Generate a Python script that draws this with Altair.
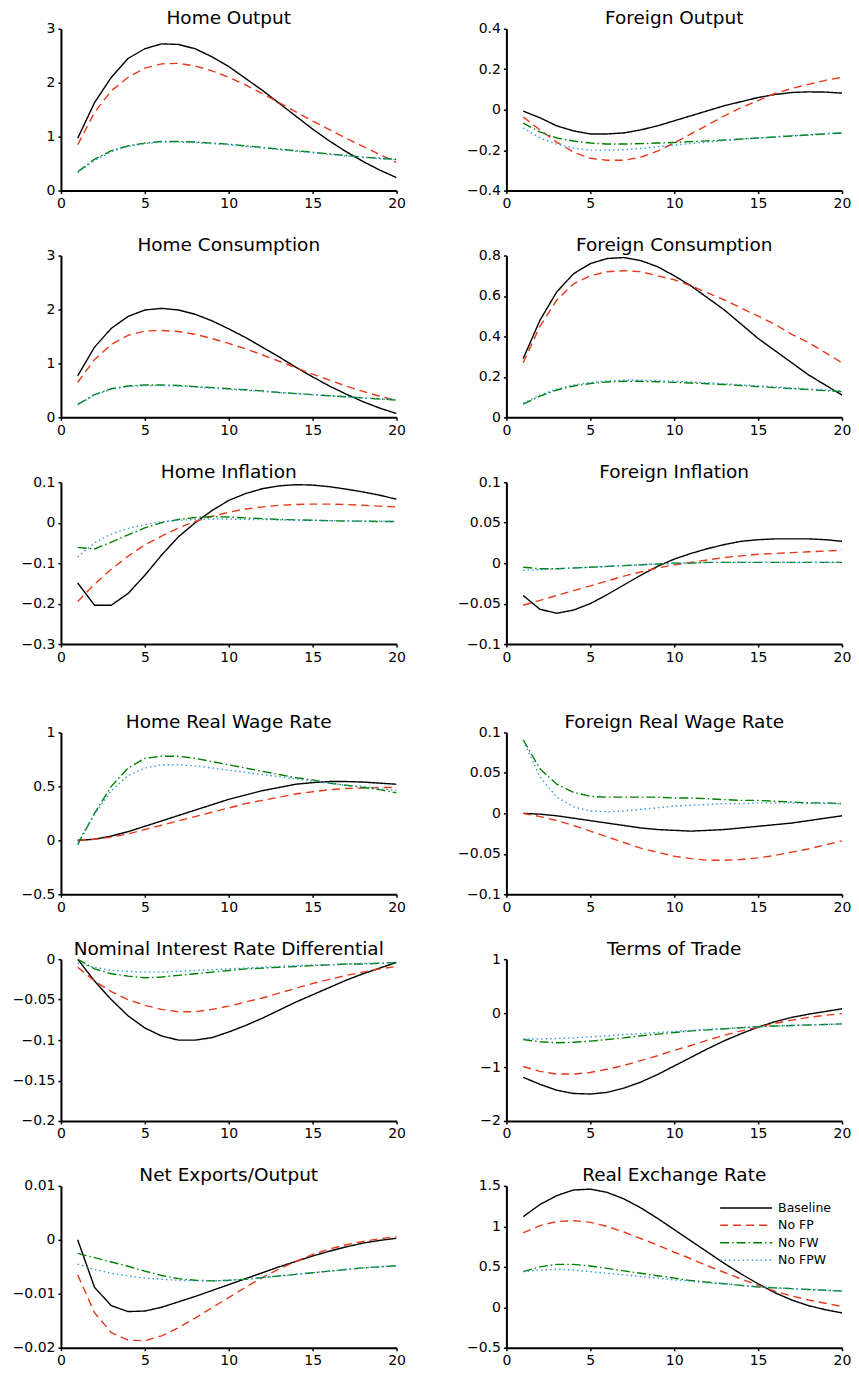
import altair as alt
import pandas as pd

periods = list(range(1, 21))
series_names = ["Baseline", "No FP", "No FW", "No FPW"]
series_colors = ["#000000", "#e6391a", "#008000", "#3399dd"]
series_dashes = [[1, 0], [8, 5], [9, 3, 1.5, 3], [1.5, 3]]
x_ticks = [0, 5, 10, 15, 20]

# ---- Home Output ----
home_output = {
    "Baseline": [0.97, 1.63, 2.10, 2.45, 2.63, 2.72, 2.71, 2.63, 2.48, 2.30, 2.08, 1.86, 1.62, 1.38, 1.14, 0.92, 0.72, 0.54, 0.38, 0.24],
    "No FP": [0.85, 1.45, 1.85, 2.10, 2.27, 2.35, 2.36, 2.31, 2.22, 2.10, 1.96, 1.80, 1.63, 1.46, 1.29, 1.13, 0.97, 0.82, 0.67, 0.52],
    "No FW": [0.35, 0.58, 0.74, 0.83, 0.88, 0.91, 0.91, 0.90, 0.88, 0.86, 0.83, 0.80, 0.77, 0.74, 0.71, 0.68, 0.65, 0.62, 0.60, 0.58],
    "No FPW": [0.33, 0.56, 0.72, 0.82, 0.87, 0.90, 0.90, 0.89, 0.87, 0.85, 0.82, 0.79, 0.76, 0.73, 0.70, 0.67, 0.64, 0.62, 0.59, 0.57],
}
# ---- Foreign Output ----
foreign_output = {
    "Baseline": [-0.007, -0.04, -0.08, -0.105, -0.12, -0.12, -0.115, -0.10, -0.08, -0.055, -0.03, -0.005, 0.02, 0.04, 0.06, 0.075, 0.085, 0.088, 0.087, 0.082],
    "No FP": [-0.036, -0.10, -0.16, -0.21, -0.24, -0.25, -0.25, -0.235, -0.205, -0.165, -0.12, -0.075, -0.03, 0.01, 0.045, 0.08, 0.105, 0.125, 0.145, 0.16],
    "No FW": [-0.067, -0.11, -0.14, -0.155, -0.165, -0.17, -0.17, -0.168, -0.165, -0.162, -0.158, -0.154, -0.15, -0.145, -0.14, -0.135, -0.13, -0.125, -0.12, -0.115],
    "No FPW": [-0.09, -0.14, -0.17, -0.19, -0.20, -0.20, -0.198, -0.192, -0.183, -0.175, -0.167, -0.16, -0.153, -0.146, -0.14, -0.134, -0.128, -0.123, -0.118, -0.113],
}
# ---- Home Consumption ----
home_consumption = {
    "Baseline": [0.77, 1.30, 1.65, 1.87, 1.99, 2.02, 1.99, 1.91, 1.79, 1.64, 1.48, 1.30, 1.12, 0.93, 0.75, 0.58, 0.43, 0.29, 0.17, 0.07],
    "No FP": [0.65, 1.07, 1.35, 1.52, 1.60, 1.61, 1.59, 1.54, 1.46, 1.37, 1.27, 1.16, 1.04, 0.92, 0.80, 0.69, 0.58, 0.48, 0.39, 0.31],
    "No FW": [0.24, 0.42, 0.53, 0.58, 0.60, 0.60, 0.59, 0.57, 0.55, 0.53, 0.51, 0.49, 0.46, 0.44, 0.42, 0.40, 0.38, 0.36, 0.34, 0.32],
    "No FPW": [0.23, 0.41, 0.52, 0.57, 0.59, 0.59, 0.58, 0.56, 0.54, 0.52, 0.50, 0.48, 0.46, 0.44, 0.42, 0.40, 0.38, 0.36, 0.34, 0.33],
}
# ---- Foreign Consumption ----
foreign_consumption = {
    "Baseline": [0.29, 0.48, 0.62, 0.71, 0.76, 0.785, 0.79, 0.775, 0.745, 0.70, 0.65, 0.59, 0.53, 0.46, 0.39, 0.33, 0.27, 0.21, 0.16, 0.11],
    "No FP": [0.27, 0.45, 0.58, 0.66, 0.70, 0.72, 0.725, 0.72, 0.70, 0.68, 0.65, 0.615, 0.58, 0.54, 0.50, 0.46, 0.41, 0.37, 0.32, 0.27],
    "No FW": [0.065, 0.105, 0.135, 0.155, 0.167, 0.175, 0.178, 0.178, 0.176, 0.173, 0.17, 0.166, 0.162, 0.157, 0.152, 0.147, 0.142, 0.137, 0.132, 0.127],
    "No FPW": [0.07, 0.11, 0.14, 0.16, 0.172, 0.18, 0.183, 0.183, 0.181, 0.178, 0.175, 0.171, 0.166, 0.161, 0.156, 0.151, 0.145, 0.14, 0.135, 0.13],
}
# ---- Home Inflation ----
home_inflation = {
    "Baseline": [-0.149, -0.204, -0.204, -0.175, -0.13, -0.08, -0.035, 0.0, 0.03, 0.055, 0.072, 0.084, 0.091, 0.094, 0.093, 0.089, 0.083, 0.076, 0.068, 0.058],
    "No FP": [-0.195, -0.152, -0.115, -0.083, -0.055, -0.033, -0.013, 0.003, 0.016, 0.026, 0.034, 0.039, 0.043, 0.045, 0.046, 0.046, 0.045, 0.043, 0.041, 0.039],
    "No FW": [-0.061, -0.065, -0.048, -0.03, -0.013, 0.0, 0.008, 0.013, 0.015, 0.014, 0.012, 0.010, 0.008, 0.007, 0.006, 0.005, 0.004, 0.004, 0.003, 0.003],
    "No FPW": [-0.085, -0.05, -0.028, -0.014, -0.005, 0.002, 0.006, 0.008, 0.009, 0.009, 0.008, 0.008, 0.007, 0.006, 0.006, 0.005, 0.005, 0.004, 0.004, 0.003],
}
# ---- Foreign Inflation ----
foreign_inflation = {
    "Baseline": [-0.040, -0.057, -0.062, -0.058, -0.050, -0.039, -0.027, -0.015, -0.004, 0.005, 0.012, 0.018, 0.023, 0.027, 0.029, 0.030, 0.030, 0.030, 0.029, 0.027],
    "No FP": [-0.052, -0.046, -0.040, -0.034, -0.028, -0.022, -0.016, -0.011, -0.006, -0.002, 0.001, 0.004, 0.007, 0.009, 0.011, 0.012, 0.013, 0.014, 0.015, 0.016],
    "No FW": [-0.005, -0.007, -0.007, -0.006, -0.005, -0.004, -0.003, -0.002, -0.001, 0.0, 0.0, 0.001, 0.001, 0.001, 0.001, 0.001, 0.001, 0.001, 0.001, 0.001],
    "No FPW": [-0.009, -0.008, -0.007, -0.006, -0.005, -0.004, -0.003, -0.002, -0.001, 0.0, 0.0, 0.001, 0.001, 0.001, 0.001, 0.001, 0.001, 0.001, 0.001, 0.001],
}
# ---- Home Real Wage Rate ----
home_wage = {
    "Baseline": [0.0, 0.01, 0.04, 0.08, 0.13, 0.18, 0.23, 0.28, 0.33, 0.38, 0.42, 0.46, 0.49, 0.52, 0.535, 0.545, 0.545, 0.54, 0.53, 0.52],
    "No FP": [0.0, 0.01, 0.03, 0.06, 0.10, 0.14, 0.18, 0.22, 0.26, 0.30, 0.34, 0.37, 0.40, 0.43, 0.45, 0.47, 0.48, 0.485, 0.49, 0.49],
    "No FW": [-0.04, 0.25, 0.50, 0.67, 0.76, 0.78, 0.78, 0.76, 0.73, 0.70, 0.67, 0.64, 0.61, 0.58, 0.56, 0.53, 0.51, 0.49, 0.47, 0.44],
    "No FPW": [-0.02, 0.24, 0.46, 0.60, 0.67, 0.70, 0.70, 0.69, 0.67, 0.65, 0.63, 0.61, 0.59, 0.57, 0.55, 0.53, 0.51, 0.50, 0.48, 0.46],
}
# ---- Foreign Real Wage Rate ----
foreign_wage = {
    "Baseline": [0.0, -0.001, -0.003, -0.006, -0.009, -0.012, -0.015, -0.018, -0.020, -0.021, -0.022, -0.021, -0.020, -0.018, -0.016, -0.014, -0.012, -0.009, -0.006, -0.003],
    "No FP": [0.0, -0.004, -0.009, -0.015, -0.022, -0.029, -0.036, -0.043, -0.048, -0.053, -0.056, -0.058, -0.058, -0.057, -0.055, -0.052, -0.048, -0.044, -0.039, -0.034],
    "No FW": [0.091, 0.055, 0.036, 0.026, 0.021, 0.020, 0.020, 0.020, 0.020, 0.019, 0.019, 0.018, 0.017, 0.016, 0.016, 0.015, 0.014, 0.013, 0.013, 0.012],
    "No FPW": [0.090, 0.045, 0.020, 0.008, 0.003, 0.002, 0.003, 0.005, 0.007, 0.009, 0.010, 0.011, 0.012, 0.012, 0.013, 0.013, 0.013, 0.012, 0.012, 0.012],
}
# ---- Nominal Interest Rate Differential ----
interest_diff = {
    "Baseline": [0.0, -0.027, -0.05, -0.07, -0.085, -0.095, -0.10, -0.10, -0.097, -0.09, -0.082, -0.073, -0.063, -0.053, -0.044, -0.035, -0.026, -0.018, -0.011, -0.004],
    "No FP": [-0.01, -0.027, -0.04, -0.05, -0.057, -0.062, -0.065, -0.065, -0.062, -0.058, -0.053, -0.048, -0.042, -0.036, -0.030, -0.025, -0.020, -0.016, -0.012, -0.009],
    "No FW": [0.0, -0.012, -0.018, -0.021, -0.023, -0.022, -0.020, -0.018, -0.016, -0.014, -0.012, -0.011, -0.010, -0.009, -0.008, -0.007, -0.006, -0.006, -0.005, -0.004],
    "No FPW": [-0.005, -0.010, -0.014, -0.015, -0.016, -0.016, -0.015, -0.014, -0.013, -0.012, -0.011, -0.010, -0.009, -0.008, -0.007, -0.007, -0.006, -0.005, -0.005, -0.004],
}
# ---- Terms of Trade ----
terms_of_trade = {
    "Baseline": [-1.19, -1.32, -1.43, -1.49, -1.50, -1.47, -1.39, -1.28, -1.14, -0.98, -0.82, -0.66, -0.51, -0.38, -0.26, -0.16, -0.08, -0.02, 0.03, 0.08],
    "No FP": [-0.99, -1.08, -1.13, -1.13, -1.10, -1.04, -0.97, -0.88, -0.79, -0.69, -0.60, -0.50, -0.41, -0.33, -0.26, -0.19, -0.13, -0.08, -0.04, -0.01],
    "No FW": [-0.49, -0.53, -0.55, -0.54, -0.52, -0.49, -0.46, -0.42, -0.39, -0.36, -0.33, -0.31, -0.29, -0.27, -0.25, -0.24, -0.23, -0.22, -0.21, -0.20],
    "No FPW": [-0.48, -0.48, -0.47, -0.46, -0.44, -0.42, -0.40, -0.38, -0.36, -0.34, -0.32, -0.30, -0.29, -0.27, -0.26, -0.24, -0.23, -0.22, -0.21, -0.20],
}
# ---- Net Exports/Output ----
net_exports = {
    "Baseline": [0.0, -0.0088, -0.0122, -0.0133, -0.0132, -0.0125, -0.0115, -0.0105, -0.0094, -0.0083, -0.0072, -0.0061, -0.0050, -0.0040, -0.0030, -0.0021, -0.0013, -0.0006, -0.0001, 0.0003],
    "No FP": [-0.0065, -0.0135, -0.0172, -0.0186, -0.0187, -0.0178, -0.0163, -0.0145, -0.0126, -0.0107, -0.0088, -0.0070, -0.0054, -0.0040, -0.0027, -0.0017, -0.0009, -0.0003, 0.0002, 0.0006],
    "No FW": [-0.0025, -0.0033, -0.0041, -0.0049, -0.0058, -0.0066, -0.0072, -0.0075, -0.0076, -0.0075, -0.0073, -0.0070, -0.0067, -0.0064, -0.0061, -0.0058, -0.0055, -0.0052, -0.0050, -0.0048],
    "No FPW": [-0.0045, -0.0055, -0.0062, -0.0067, -0.0071, -0.0073, -0.0075, -0.0076, -0.0076, -0.0075, -0.0073, -0.0070, -0.0067, -0.0064, -0.0061, -0.0058, -0.0055, -0.0052, -0.0050, -0.0048],
}
# ---- Real Exchange Rate ----
real_exchange = {
    "Baseline": [1.12, 1.27, 1.38, 1.45, 1.46, 1.42, 1.34, 1.23, 1.10, 0.96, 0.82, 0.68, 0.54, 0.41, 0.29, 0.18, 0.09, 0.02, -0.03, -0.07],
    "No FP": [0.92, 1.01, 1.06, 1.07, 1.05, 1.00, 0.93, 0.85, 0.77, 0.68, 0.60, 0.51, 0.43, 0.35, 0.27, 0.20, 0.14, 0.09, 0.05, 0.01],
    "No FW": [0.44, 0.50, 0.53, 0.53, 0.51, 0.48, 0.45, 0.42, 0.39, 0.36, 0.33, 0.31, 0.29, 0.27, 0.25, 0.24, 0.23, 0.22, 0.21, 0.20],
    "No FPW": [0.44, 0.46, 0.47, 0.46, 0.44, 0.42, 0.40, 0.38, 0.36, 0.34, 0.32, 0.30, 0.29, 0.27, 0.26, 0.24, 0.23, 0.22, 0.21, 0.20],
}

panel_titles = [
    "Home Output", "Foreign Output",
    "Home Consumption", "Foreign Consumption",
    "Home Inflation", "Foreign Inflation",
    "Home Real Wage Rate", "Foreign Real Wage Rate",
    "Nominal Interest Rate Differential", "Terms of Trade",
    "Net Exports/Output", "Real Exchange Rate",
]
panel_data = [
    home_output, foreign_output,
    home_consumption, foreign_consumption,
    home_inflation, foreign_inflation,
    home_wage, foreign_wage,
    interest_diff, terms_of_trade,
    net_exports, real_exchange,
]
panel_yticks = [
    [0, 1, 2, 3], [-0.4, -0.2, 0, 0.2, 0.4],
    [0, 1, 2, 3], [0, 0.2, 0.4, 0.6, 0.8],
    [-0.3, -0.2, -0.1, 0, 0.1], [-0.1, -0.05, 0, 0.05, 0.1],
    [-0.5, 0, 0.5, 1], [-0.1, -0.05, 0, 0.05, 0.1],
    [-0.2, -0.15, -0.1, -0.05, 0], [-2, -1, 0, 1],
    [-0.02, -0.01, 0, 0.01], [-0.5, 0, 0.5, 1, 1.5],
]

FONT = "DejaVu Sans"
PW, PH = 336, 162


def panel(idx, show_legend=False):
    data = panel_data[idx]
    rows = []
    for s in series_names:
        for t, v in zip(periods, data[s]):
            rows.append({"t": t, "v": v, "s": s})
    df = pd.DataFrame(rows)
    ticks = panel_yticks[idx]
    if show_legend:
        leg = alt.Legend(
            title=None, orient="none", legendX=213, legendY=14,
            symbolType="stroke", symbolSize=2704, symbolStrokeWidth=1.5,
            labelFont=FONT, labelFontSize=12.5, labelColor="black",
            clipHeight=16, rowPadding=1.5, labelOffset=5, padding=0,
        )
    else:
        leg = None
    return alt.Chart(df).mark_line(strokeWidth=1.4, clip=True).encode(
        x=alt.X("t:Q", title=None,
                scale=alt.Scale(domain=[0, 20], nice=False, zero=False),
                axis=alt.Axis(values=x_ticks, labelFlush=False, format="~g")),
        y=alt.Y("v:Q", title=None,
                scale=alt.Scale(domain=[ticks[0], ticks[-1]], nice=False, zero=False),
                axis=alt.Axis(values=ticks, format="~g", minExtent=53, maxExtent=53)),
        color=alt.Color("s:N", scale=alt.Scale(domain=series_names, range=series_colors), legend=leg),
        strokeDash=alt.StrokeDash("s:N", scale=alt.Scale(domain=series_names, range=series_dashes), legend=leg),
    ).properties(
        width=PW, height=PH,
        title=alt.TitleParams(panel_titles[idx], offset=-6),
    )


def row(i):
    return alt.hconcat(panel(2 * i), panel(2 * i + 1, show_legend=(i == 5)), spacing=48).resolve_scale(
        color="independent", strokeDash="independent")


top = alt.vconcat(row(0), row(1), row(2), spacing=25).resolve_scale(color="independent", strokeDash="independent")
bottom = alt.vconcat(row(3), row(4), row(5), spacing=25).resolve_scale(color="independent", strokeDash="independent")

chart = alt.vconcat(top, bottom, spacing=48.5).resolve_scale(
    color="independent", strokeDash="independent"
).configure_view(stroke=None).configure_axis(
    grid=False, domainColor="black", domainWidth=2, tickColor="black", tickWidth=1.5,
    tickSize=3, labelPadding=3, labelFont=FONT, labelFontSize=14, labelColor="black",
).configure_title(
    font=FONT, fontSize=18.5, fontWeight="normal", color="black", anchor="middle",
).properties(background="white", padding=0)

chart.save("out.html", embed_options={"renderer": "svg", "actions": False})
